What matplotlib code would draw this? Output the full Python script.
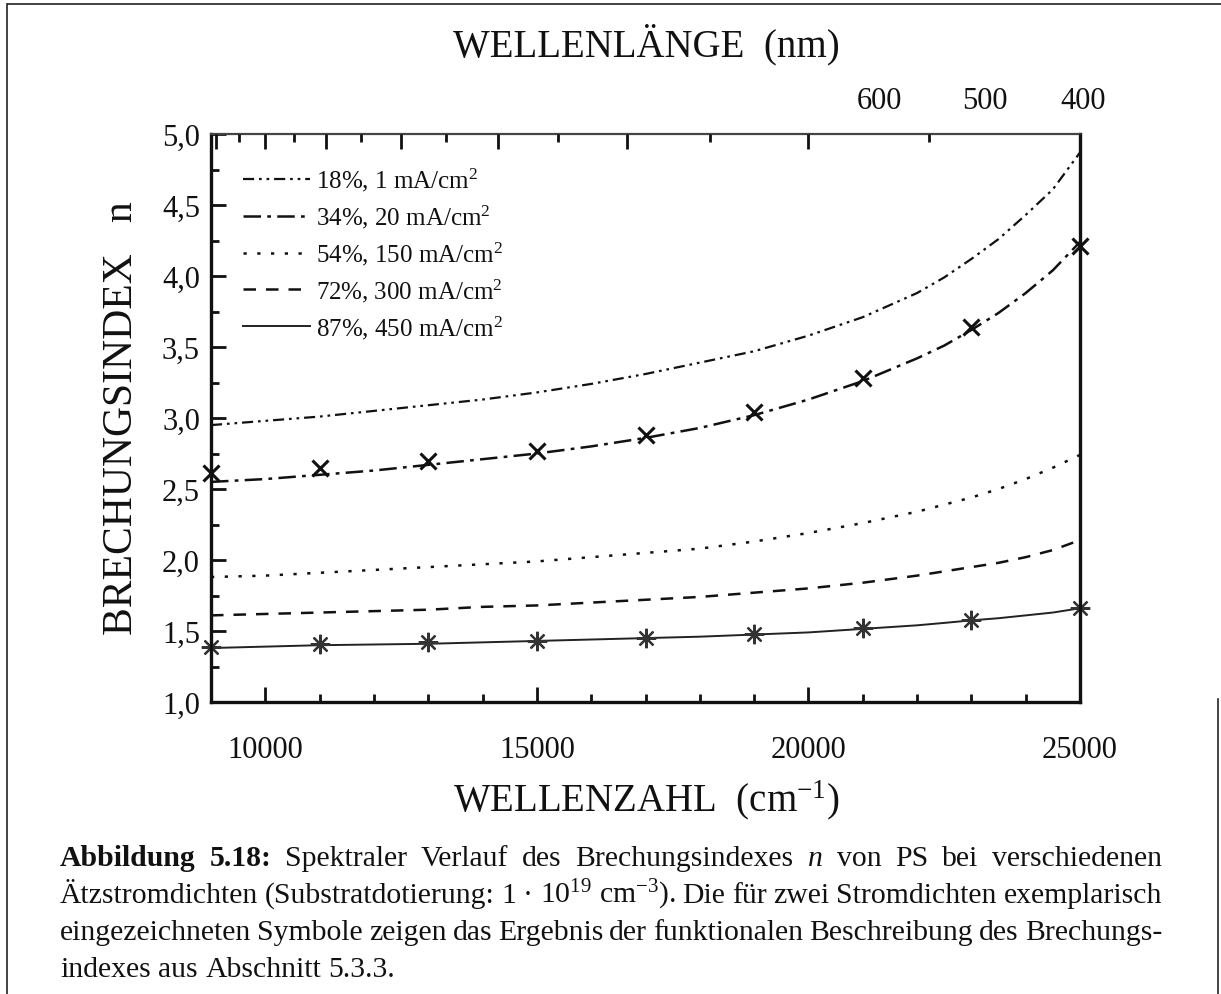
import numpy as np
import matplotlib
matplotlib.use("Agg")
import matplotlib.pyplot as plt
from matplotlib.ticker import MultipleLocator, FixedLocator, FuncFormatter, NullFormatter
from matplotlib.lines import Line2D

plt.rcParams['font.family'] = ['Liberation Serif', 'DejaVu Serif']
plt.rcParams['mathtext.fontset'] = 'custom'
plt.rcParams['mathtext.rm'] = 'Liberation Serif'
plt.rcParams['mathtext.it'] = 'Liberation Serif:italic'
plt.rcParams['mathtext.bf'] = 'Liberation Serif:bold'

# wavenumber grid (cm^-1) and refractive index
wavenumber = [9000, 10000, 11000, 12000, 13000, 14000, 15000, 16000, 17000,
              18000, 19000, 20000, 21000, 22000, 22500, 23000, 23500, 24000, 24500, 25000]
n_18 = [2.95, 2.98, 3.01, 3.05, 3.09, 3.13, 3.18, 3.24, 3.31,
        3.39, 3.47, 3.58, 3.71, 3.88, 3.99, 4.12, 4.26, 4.43, 4.61, 4.87]
n_34 = [2.55, 2.57, 2.60, 2.63, 2.67, 2.71, 2.75, 2.80, 2.86,
        2.93, 3.02, 3.13, 3.26, 3.42, 3.51, 3.62, 3.74, 3.88, 4.04, 4.24]
n_54 = [1.88, 1.89, 1.91, 1.93, 1.95, 1.97, 1.99, 2.02, 2.05,
        2.08, 2.13, 2.19, 2.26, 2.34, 2.39, 2.44, 2.50, 2.57, 2.65, 2.74]
n_72 = [1.61, 1.62, 1.63, 1.64, 1.65, 1.67, 1.68, 1.70, 1.72,
        1.74, 1.77, 1.80, 1.84, 1.89, 1.92, 1.95, 1.98, 2.02, 2.07, 2.14]
n_87 = [1.38, 1.39, 1.40, 1.405, 1.41, 1.42, 1.43, 1.44, 1.45,
        1.46, 1.475, 1.49, 1.515, 1.54, 1.557, 1.575, 1.59, 1.61, 1.63, 1.66]

# symbols from the functional description
sym_x = [9000, 11000, 13000, 15000, 17000, 19000, 21000, 23000, 25000]
sym_34 = [2.61, 2.65, 2.70, 2.77, 2.88, 3.04, 3.28, 3.64, 4.21]
sym_87 = [1.39, 1.41, 1.42, 1.43, 1.45, 1.48, 1.52, 1.58, 1.66]

labels = ['18%, 1 mA/cm$^2$', '34%, 20 mA/cm$^2$', '54%, 150 mA/cm$^2$',
          '72%, 300 mA/cm$^2$', '87%, 450 mA/cm$^2$']

# top axis: wavelength ticks (nm)
wl_major = [400, 500, 600, 700, 800, 900, 1000, 1100]
wl_minor = [450, 550, 650, 750, 850, 950, 1050]
top_labels = ['600', '500', '400']

W, H = 1221, 995
fig = plt.figure(figsize=(W / 100, H / 100), dpi=100)
ax = fig.add_axes([211 / W, 1 - 703 / H, 869 / W, 568 / H])

ink = '#111111'
ax.plot(wavenumber, n_18, color=ink, lw=1.6, dashes=(5, 2.2, 1.2, 2.2, 1.2, 2.2), label=labels[0])
ax.plot(wavenumber, n_34, color=ink, lw=1.8, dashes=(7, 2.5, 1.5, 2.5), label=labels[1])
ax.plot(wavenumber, n_54, color=ink, lw=1.8, dashes=(1.3, 4.2), label=labels[2])
ax.plot(wavenumber, n_72, color=ink, lw=1.8, dashes=(5, 4), label=labels[3])
ax.plot(wavenumber, n_87, color='#222222', lw=1.4, label=labels[4])

ax.plot(sym_x, sym_34, ls='none', marker='x', ms=12, mew=2.2, color=ink, clip_on=False)
ax.plot(sym_x, sym_87, ls='none', marker=(8, 2, 0), ms=14, mew=1.6, color='#333333', clip_on=False)

ax.set_xlim(9000, 25000)
ax.set_ylim(1.0, 5.0)
ax.xaxis.set_major_locator(MultipleLocator(5000))
ax.xaxis.set_minor_locator(MultipleLocator(1000))
ax.yaxis.set_major_locator(MultipleLocator(0.5))
ax.yaxis.set_minor_locator(MultipleLocator(0.25))
ax.yaxis.set_major_formatter(FuncFormatter(lambda v, p: f'{v:.1f}'.replace('.', ',')))
ax.tick_params(which='both', direction='in', top=False, right=False, width=2, color=ink)
ax.tick_params(which='major', length=11, labelsize=22, colors=ink)
ax.tick_params(which='minor', length=6)
ax.tick_params(axis='x', which='major', pad=24)
ax.tick_params(axis='y', which='major', pad=8)
for side in ['left', 'bottom', 'right']:
    ax.spines[side].set_linewidth(2.4)
    ax.spines[side].set_color(ink)
ax.spines['top'].set_linewidth(1.6)
ax.spines['top'].set_color('#444444')

# wavelength ticks on top
ax_top = ax.twiny()
ax_top.set_xlim(ax.get_xlim())
ax_top.xaxis.set_major_locator(FixedLocator([1e7 / w for w in wl_major]))
ax_top.xaxis.set_minor_locator(FixedLocator([1e7 / w for w in wl_minor]))
ax_top.xaxis.set_major_formatter(NullFormatter())
ax_top.tick_params(which='both', direction='in', width=2, color=ink)
ax_top.tick_params(which='major', length=11)
ax_top.tick_params(which='minor', length=6)
for side in ['left', 'bottom', 'right', 'top']:
    ax_top.spines[side].set_visible(False)

for lab, xpos in zip(top_labels, [21300, 23250, 25050]):
    ax.text(xpos, 1.045, lab, transform=ax.get_xaxis_transform(), ha='center',
            va='baseline', fontsize=22, color=ink)

leg = ax.legend(loc='upper left', bbox_to_anchor=(0.017, 0.975), frameon=False,
                fontsize=18, handlelength=2.65, handletextpad=0.25, labelspacing=0.38,
                borderpad=0.2)
for t in leg.get_texts():
    t.set_color(ink)

# axis titles
fig.text(646 / W, 1 - 45 / H, 'WELLENLÄNGE  (nm)', ha='center', va='center', fontsize=28, color=ink)
fig.text(646 / W, 1 - 800 / H, 'WELLENZAHL  (cm$^{-1}$)', ha='center', va='center', fontsize=28, color=ink)
fig.text(122 / W, 1 - 418 / H, 'BRECHUNGSINDEX   n', ha='center', va='center', rotation=90,
         fontsize=30, color=ink)

# page frame
frame = dict(color='#222222', lw=1.2, transform=fig.transFigure)
fig.add_artist(Line2D([8 / W, 1.0], [1 - 5 / H, 1 - 5 / H], **frame))
fig.add_artist(Line2D([7 / W, 7 / W], [1 - 5 / H, 0.0], **frame))
fig.add_artist(Line2D([1218 / W, 1218 / W], [1 - 700 / H, 0.0], **frame))

# caption, justified like the printed page
caption = [
    [('Abbildung', 'bold'), ('5.18:', 'bold'), ('Spektraler', 'normal'), ('Verlauf', 'normal'),
     ('des', 'normal'), ('Brechungsindexes', 'normal'), ('$n$', 'normal'), ('von', 'normal'),
     ('PS', 'normal'), ('bei', 'normal'), ('verschiedenen', 'normal')],
    [('Ätzstromdichten', 'normal'), ('(Substratdotierung:', 'normal'), ('1', 'normal'),
     ('·', 'normal'), ('10$^{19}$', 'normal'), ('cm$^{-3}$).', 'normal'), ('Die', 'normal'),
     ('für', 'normal'), ('zwei', 'normal'), ('Stromdichten', 'normal'), ('exemplarisch', 'normal')],
    [('eingezeichneten', 'normal'), ('Symbole', 'normal'), ('zeigen', 'normal'), ('das', 'normal'),
     ('Ergebnis', 'normal'), ('der', 'normal'), ('funktionalen', 'normal'),
     ('Beschreibung', 'normal'), ('des', 'normal'), ('Brechungs-', 'normal')],
    [('indexes', 'normal'), ('aus', 'normal'), ('Abschnitt', 'normal'), ('5.3.3.', 'normal')],
]
baselines = [866, 903, 940, 977]
x_left, x_right = 60, 1162
renderer = fig.canvas.get_renderer()


def word_widths(words, size):
    texts = [fig.text(0, 0, w, fontweight=wt, fontsize=size, va='baseline', ha='left')
             for w, wt in words]
    widths = [t.get_window_extent(renderer=renderer).width for t in texts]
    for t in texts:
        t.remove()
    return widths


# size the caption font so the tightest line (line 2) fits with normal word spacing
probe = 16
ws = word_widths(caption[1], probe)
natural = sum(ws) + (len(ws) - 1) * 0.22 * probe * 100 / 72
cap_size = probe * (x_right - x_left) / natural

for i, (words, yb) in enumerate(zip(caption, baselines)):
    widths = word_widths(words, cap_size)
    if i < len(caption) - 1:
        gap = (x_right - x_left - sum(widths)) / (len(words) - 1)
    else:
        gap = 0.25 * cap_size * 100 / 72
    x = x_left
    for (w, wt), wd in zip(words, widths):
        fig.text(x / W, 1 - yb / H, w, fontweight=wt, fontsize=cap_size, va='baseline',
                 ha='left', color=ink)
        x += wd + gap

fig.savefig('out.png', dpi=100)
